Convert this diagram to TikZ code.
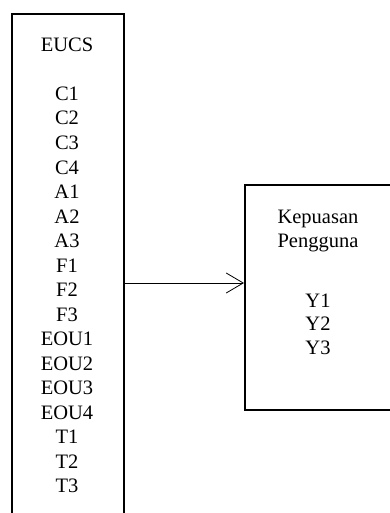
\documentclass[tikz,border=0pt]{standalone}
\usepackage{fontspec}
\setmainfont{Liberation Serif}
\usetikzlibrary{arrows.meta}

\tikzset{
  frame/.style={draw=black, line width=1.8pt, rectangle, inner sep=0pt, anchor=north west},
  label/.style={inner sep=0pt, anchor=base, font=\fontsize{20.5}{24.5}\selectfont},
  link/.style={draw=black, line width=0.8pt, -{Straight Barb[length=17pt,width=20pt,line width=0.8pt]}}
}

\begin{document}
\begin{tikzpicture}[x=1pt, y=-1pt]
  \useasboundingbox (0,0) rectangle (390,513);
  \clip (0,0) rectangle (390,513);

  % left block: EUCS indicators (runs past the bottom edge)
  \node[frame, minimum width=112pt, minimum height=530pt] (eucs) at (11,13) {};
  \node[label] (t0) at (67,51.5) {EUCS};
  \foreach \txt [count=\k from 2] in {C1,C2,C3,C4,A1,A2,A3,F1,F2,F3,EOU1,EOU2,EOU3,EOU4,T1,T2,T3}
    \node[label] (t\k) at (67,{51.5+24.5*\k}) {\txt};

  % right block: user satisfaction (runs past the right edge)
  \node[frame, minimum width=150pt, minimum height=225pt] (kp) at (244,184) {};
  \node[label] (k1) at (318,223.5) {Kepuasan};
  \node[label] (k2) at (318,247.5) {Pengguna};
  \node[label] (y1) at (318,307) {Y1};
  \node[label] (y2) at (318,330.5) {Y2};
  \node[label] (y3) at (318,354) {Y3};

  % connector
  \coordinate (ay) at (0,283);
  \draw[link] (eucs.east |- ay) -- (kp.west |- ay);
\end{tikzpicture}
\end{document}
